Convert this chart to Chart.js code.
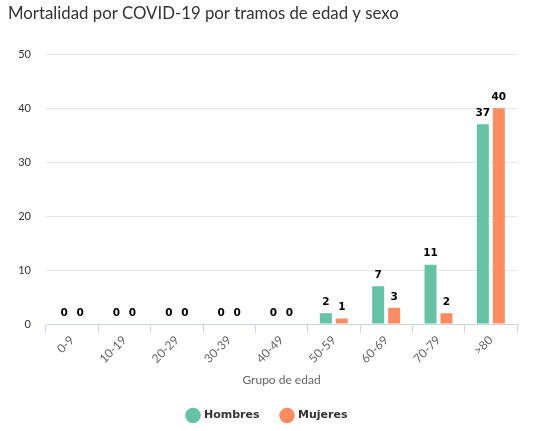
<!DOCTYPE html>
<html>
<head>
<meta charset="utf-8">
<script src="https://cdn.jsdelivr.net/npm/chart.js@4"></script>
<style>
  html,body{margin:0;padding:0;background:#fff;}
  #wrap{width:533px;height:431px;position:relative;}
</style>
</head>
<body>
<div id="wrap"><canvas id="chart"></canvas></div>
<script>
// data
const ageGroups = ['0-9','10-19','20-29','30-39','40-49','50-59','60-69','70-79','>80'];
const hombres = [0,0,0,0,0,2,7,11,37];
const mujeres = [0,0,0,0,0,1,3,2,40];
const yTicks = [0,10,20,30,40,50];

// labels over the bars
const barLabels = {
  id:'barLabels',
  afterDatasetsDraw(chart){
    const c = chart.ctx;
    c.save();
    c.font = 'bold 10.5px "DejaVu Sans"';
    c.textAlign = 'center';
    c.textBaseline = 'middle';
    c.lineJoin = 'round';
    chart.data.datasets.forEach((ds,i)=>{
      chart.getDatasetMeta(i).data.forEach((bar,j)=>{
        const txt = String(ds.data[j]);
        c.strokeStyle = '#fff'; c.lineWidth = 2;
        c.strokeText(txt, bar.x, bar.y - 11);
        c.fillStyle = '#000';
        c.fillText(txt, bar.x, bar.y - 11);
      });
    });
    c.restore();
  }
};

// legend is centred on the whole page, not on the padded box
const legendShift = {
  id:'legendShift',
  afterLayout(chart){
    if(chart.legend){ chart.legend.left += 5; chart.legend.right += 5; }
  }
};

new Chart(document.getElementById('chart'),{
  type:'bar',
  data:{
    labels: ageGroups,
    datasets:[
      {label:'Hombres',data:hombres,backgroundColor:'#66c2a5',categoryPercentage:0.611,barPercentage:0.75},
      {label:'Mujeres',data:mujeres,backgroundColor:'#fc8d62',categoryPercentage:0.611,barPercentage:0.75}
    ]
  },
  options:{
    responsive:true,maintainAspectRatio:false,animation:false,
    layout:{padding:{left:8,right:16,top:0,bottom:0}},
    plugins:{
      title:{display:true,text:'Mortalidad por COVID-19 por tramos de edad y sexo',align:'start',
        color:'#333',font:{family:'Lato',size:16.8,weight:'normal'},padding:{top:4,bottom:30}},
      legend:{position:'bottom',labels:{usePointStyle:true,pointStyle:'circle',boxWidth:11,boxHeight:11,
        color:'#333',font:{family:'DejaVu Sans',size:11,weight:'bold'},padding:22}},
      tooltip:{enabled:false}
    },
    scales:{
      x:{
        grid:{offset:true,drawOnChartArea:false,color:'#ccd6eb',tickLength:9},
        border:{color:'#ccd6eb'},
        ticks:{color:'#666',font:{family:'Lato',size:12},maxRotation:45,minRotation:45,padding:0},
        title:{display:true,text:'Grupo de edad',color:'#666',font:{family:'Lato',size:12},padding:{top:4,bottom:1}},
        afterFit:s=>{s.height = 64;}
      },
      y:{
        min:0,max:50,
        afterBuildTicks:s=>{s.ticks = yTicks.map(v=>({value:v}));},
        grid:{color:'#e6e6e6',drawTicks:false},
        border:{display:false},
        ticks:{color:'#333',font:{family:'Lato',size:11},padding:15},
        afterFit:s=>{s.width = 38;}
      }
    }
  },
  plugins:[barLabels,legendShift]
});
</script>
</body>
</html>
